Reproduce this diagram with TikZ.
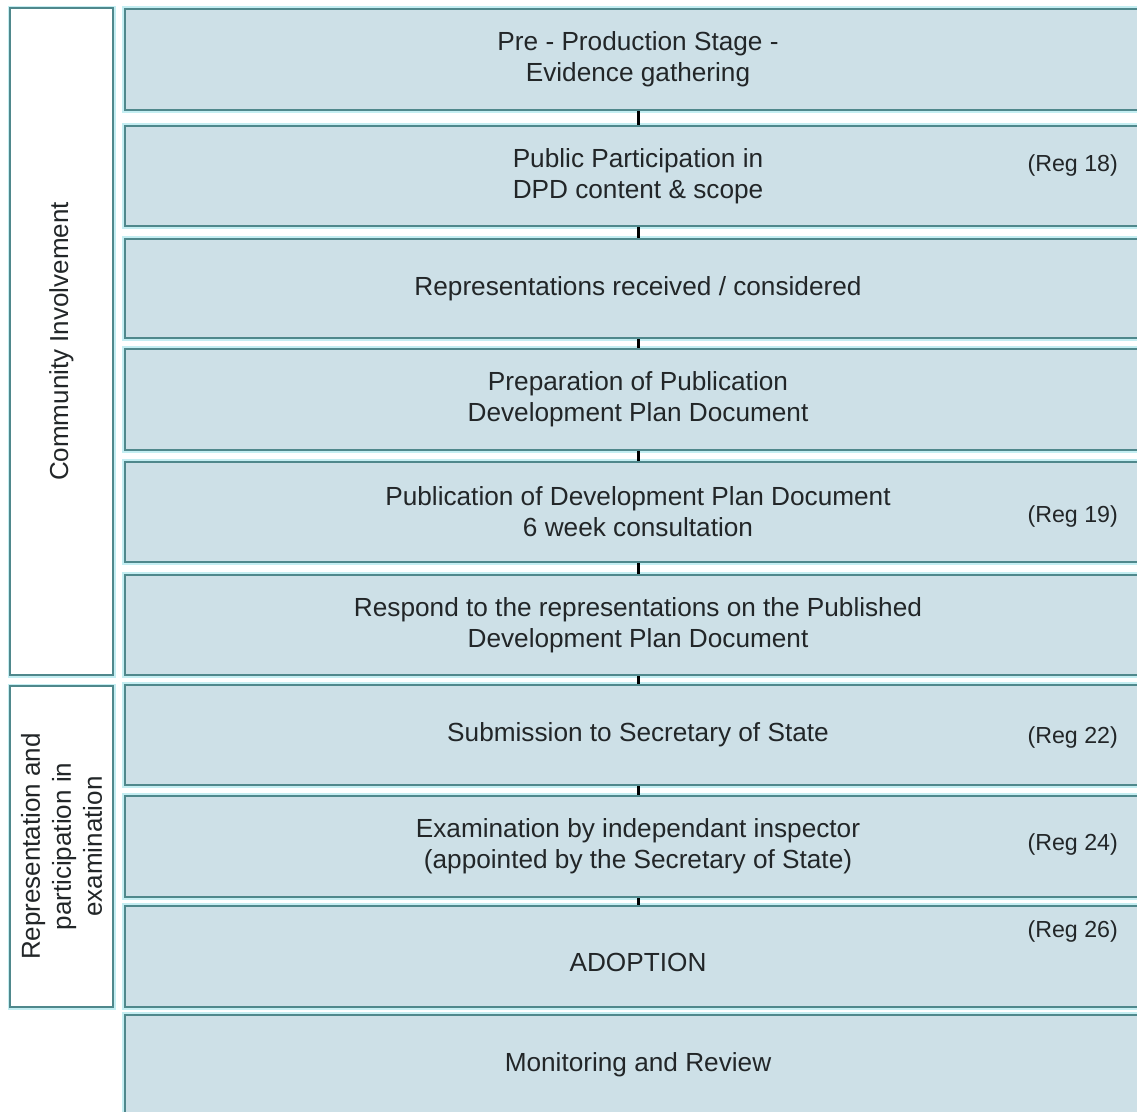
\documentclass[tikz,border=0pt]{standalone}
\usepackage{fontspec}
\setmainfont{Liberation Sans}
\definecolor{boxfill}{HTML}{CDE0E7}
\definecolor{boxline}{HTML}{4F888C}
\definecolor{halo}{HTML}{C4EEF2}
\definecolor{txt}{HTML}{222628}
\tikzset{
  stagebox/.style={rectangle, draw=boxline, line width=2pt, fill=boxfill,
    preaction={draw=halo, line width=6pt},
    minimum width=1026pt, inner sep=0pt, align=center, text=txt,
    font=\fontsize{26.2}{31}\selectfont},
  sidebox/.style={rectangle, draw=boxline, line width=2pt, fill=white,
    preaction={draw=halo, line width=5pt},
    rotate=90, minimum height=103pt, inner sep=0pt, align=center, text=txt,
    font=\fontsize{26}{31}\selectfont},
  reglabel/.style={anchor=east, inner sep=0pt, text=txt,
    font=\fontsize{23.2}{28}\selectfont},
  link/.style={draw=black, line width=3pt}
}
\begin{document}
\begin{tikzpicture}[x=1pt, y=-1pt]
\clip (0,0) rectangle (1137,1111);
\fill[white] (0,0) rectangle (1137,1111);
% left group boxes
\node[sidebox, minimum width=667pt] (ci) at (61.5,341.5) {Community Involvement};
\node[sidebox, minimum width=321pt] (rp) at (61.5,846.5) {Representation and\\participation in\\examination};
% stage boxes
\node[stagebox, minimum height=101pt] (b1) at (638,59.5) {Pre - Production Stage -\\Evidence gathering};
\node[stagebox, minimum height=100pt] (b2) at (638,176) {Public Participation in\\DPD content \& scope};
\node[stagebox, minimum height=99pt] (b3) at (638,288.5) {Representations received / considered};
\node[stagebox, minimum height=101pt] (b4) at (638,399.5) {Preparation of Publication\\Development Plan Document};
\node[stagebox, minimum height=100pt] (b5) at (638,512) {Publication of Development Plan Document\\6 week consultation};
\node[stagebox, minimum height=100pt] (b6) at (638,625) {Respond to the representations on the Published\\Development Plan Document};
\node[stagebox, minimum height=100pt] (b7) at (638,735) {Submission to Secretary of State};
\node[stagebox, minimum height=101pt] (b8) at (638,846.5) {Examination by independant inspector\\(appointed by the Secretary of State)};
\node[stagebox, minimum height=101pt] (b9) at (638,956.5) {\raisebox{-6pt}[\height][\depth]{ADOPTION}};
\node[stagebox, minimum height=100pt] (b10) at (638,1065) {Monitoring and Review};
% connectors
\foreach \a/\b in {b1/b2,b2/b3,b3/b4,b4/b5,b5/b6,b6/b7,b7/b8,b8/b9}
  \draw[link] (\a.south) -- (\b.north);
% regulation labels
\node[reglabel] (r18) at (1118,165) {(Reg 18)};
\node[reglabel] (r19) at (1118,516) {(Reg 19)};
\node[reglabel] (r22) at (1118,737) {(Reg 22)};
\node[reglabel] (r24) at (1118,844) {(Reg 24)};
\node[reglabel] (r26) at (1118,931) {(Reg 26)};
\end{tikzpicture}
\end{document}
